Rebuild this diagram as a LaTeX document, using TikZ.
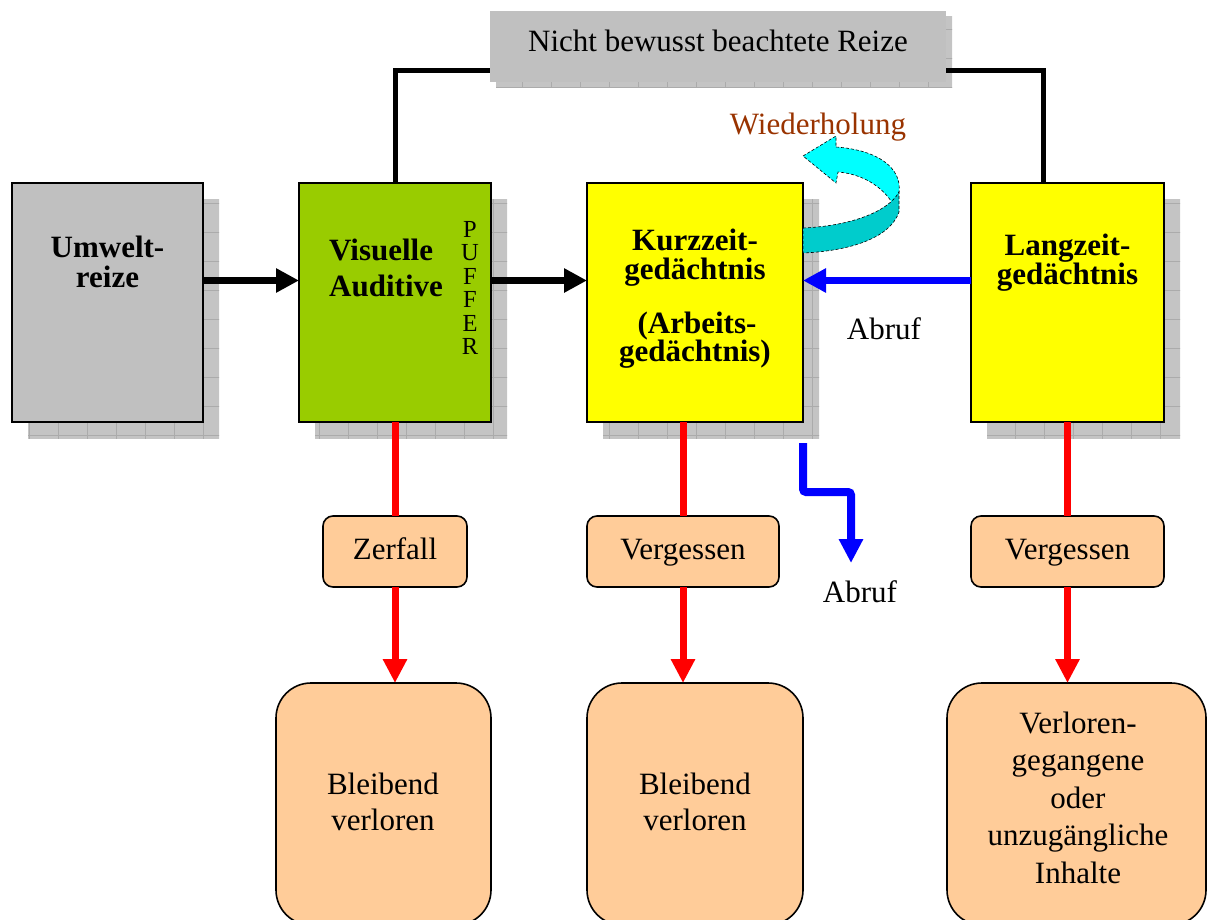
\documentclass[tikz,border=0pt]{standalone}
\usepackage{fontspec}
\setmainfont{Liberation Serif}
\usetikzlibrary{arrows.meta,calc,backgrounds}
\definecolor{boxgray}{HTML}{C0C0C0}
\definecolor{shgray}{HTML}{C4C4C4}
\definecolor{shline}{HTML}{ABABAB}
\definecolor{vgreen}{HTML}{99CC00}
\definecolor{kyellow}{HTML}{FFFF00}
\definecolor{peach}{HTML}{FFCC99}
\definecolor{wcyan}{HTML}{00FFFF}
\definecolor{wteal}{HTML}{00CCCC}
\definecolor{wbrown}{HTML}{993300}
\definecolor{pblue}{HTML}{0000FF}
\definecolor{pred}{HTML}{FF0000}
\tikzset{
  mainbox/.style={draw=black, line width=2.2pt, inner sep=0pt, outer sep=0pt},
  roundbox/.style={draw=black, line width=1.6pt, fill=peach, rounded corners=10pt, inner sep=0pt, outer sep=0pt},
  bigbox/.style={draw=black, line width=1.6pt, fill=peach, rounded corners=35pt, inner sep=0pt, outer sep=0pt},
  btxt/.style={font=\fontsize{31}{31}\selectfont\bfseries, inner sep=0pt, anchor=base},
  rtxt/.style={font=\fontsize{31}{31}\selectfont, inner sep=0pt, anchor=base},
  ptxt/.style={font=\fontsize{24.5}{24}\selectfont, inner sep=0pt, anchor=base},
  blkline/.style={line width=5pt, draw=black},
  blackarrow/.style={line width=7pt, draw=black, -{Triangle[length=23pt,width=23pt]}},
  bluearrow/.style={line width=7pt, draw=pblue, -{Triangle[length=23pt,width=23pt]}},
  redline/.style={line width=7pt, draw=pred},
  redarrow/.style={line width=7pt, draw=pred, -{Triangle[length=24pt,width=23pt]}},
  wiedline/.style={draw=black, line width=0.6pt, densely dashed},
}
\newcommand{\myshadow}[2]{%
  \begin{scope}
    \clip ([shift={(#2,#2)}]#1.north west) rectangle ([shift={(#2,#2)}]#1.south east);
    \fill[shgray] (0,0) rectangle (1209,920);
    \foreach \gx in {0,29,...,1218} {\draw[shline, line width=0.7pt] (\gx,0) -- (\gx,930);}
    \foreach \gy in {0,29,...,928} {\draw[shline, line width=0.7pt] (0,\gy) -- (1220,\gy);}
  \end{scope}}
\begin{document}
\begin{tikzpicture}[x=1pt,y=-1pt]
\useasboundingbox (0,0) rectangle (1209,920);
\clip (0,0) rectangle (1209,920);
% main boxes
\node[mainbox, fill=boxgray, minimum width=191pt, minimum height=239pt] (umw) at (107.5,302.5) {};
\node[mainbox, fill=vgreen, minimum width=192pt, minimum height=239pt] (vis) at (395,302.5) {};
\node[mainbox, fill=kyellow, minimum width=216pt, minimum height=239pt] (kzg) at (695,302.5) {};
\node[mainbox, fill=kyellow, minimum width=193pt, minimum height=239pt] (lzg) at (1067.5,302.5) {};
\node[fill=boxgray, inner sep=0pt, outer sep=0pt, minimum width=456pt, minimum height=71pt] (top) at (718,46.5) {};
% rounded boxes
\node[roundbox, minimum width=144pt, minimum height=71pt] (zer) at (395,551.5) {};
\node[roundbox, minimum width=192pt, minimum height=71pt] (vg1) at (683,551.5) {};
\node[roundbox, minimum width=193pt, minimum height=71pt] (vg2) at (1067.5,551.5) {};
\node[bigbox, minimum width=215pt, minimum height=242pt] (bl1) at (383.5,804) {};
\node[bigbox, minimum width=216pt, minimum height=242pt] (bl2) at (695,804) {};
\node[bigbox, minimum width=259pt, minimum height=242pt] (bl3) at (1076.5,804) {};
% shadows
\begin{scope}[on background layer]
  \myshadow{umw}{16}
  \myshadow{vis}{16}
  \myshadow{kzg}{16}
  \myshadow{lzg}{16}
  \myshadow{top}{6}
\end{scope}
% texts
\node[rtxt] (toptxt) at (718,52) {Nicht bewusst beachtete Reize};
\node[btxt] (umw1) at (107.5,257) {Umwelt-};
\node[btxt] (umw2) at (107.5,287) {reize};
\node[btxt, anchor=base west] (vis1) at (329,260) {Visuelle};
\node[btxt, anchor=base west] (vis2) at (329,296) {Auditive};
\foreach \l [count=\i] in {P,U,F,F,E,R} {\node[ptxt] (puf\i) at (470,213.5+23.5*\i) {\l};}
\node[btxt] (kzg1) at (695,250) {Kurzzeit-};
\node[btxt] (kzg2) at (695,279) {gedächtnis};
\node[btxt] (kzg3) at (697,333) {(Arbeits-};
\node[btxt] (kzg4) at (695,361) {gedächtnis)};
\node[btxt] (lzg1) at (1067.5,255) {Langzeit-};
\node[btxt] (lzg2) at (1067.5,284) {gedächtnis};
\node[rtxt] (zert) at (395,559) {Zerfall};
\node[rtxt] (vg1t) at (683,559) {Vergessen};
\node[rtxt] (vg2t) at (1067.5,559) {Vergessen};
\node[rtxt] (bl1a) at (383,794) {Bleibend};
\node[rtxt] (bl1b) at (383,830) {verloren};
\node[rtxt] (bl2a) at (695,794) {Bleibend};
\node[rtxt] (bl2b) at (695,830) {verloren};
\node[rtxt] (bl3a) at (1078,733) {Verloren-};
\node[rtxt] (bl3b) at (1078,770.5) {gegangene};
\node[rtxt] (bl3c) at (1078,808) {oder};
\node[rtxt] (bl3d) at (1078,845.5) {unzugängliche};
\node[rtxt] (bl3e) at (1078,883) {Inhalte};
\node[rtxt] (abr1) at (884,339) {Abruf};
\node[rtxt] (abr2) at (860,602) {Abruf};
\node[rtxt, text=wbrown] (wdh) at (818,135) {Wiederholung};
% connectors
\draw[blkline] (vis.north) |- ([yshift=11pt]top.south west);
\draw[blkline] ([yshift=11pt]top.south east) -| ([xshift=-24.5pt]lzg.north);
\draw[blackarrow] ([yshift=22pt]umw.east) -- ([yshift=22pt]vis.west);
\draw[blackarrow] ([yshift=22pt]vis.east) -- ([yshift=22pt]kzg.west);
\draw[bluearrow] ([yshift=22pt]lzg.west) -- ([yshift=22pt]kzg.east);
\draw[redline] (vis.south) -- (zer.north);
\draw[redarrow] (zer.south) -- (zer.south |- bl1.north);
\draw[redline] (vg1.north |- kzg.south) -- (vg1.north);
\draw[redarrow] (vg1.south) -- (vg1.south |- bl2.north);
\draw[redline] (vg2.north |- lzg.south) -- (vg2.north);
\draw[redarrow] (vg2.south) -- (vg2.south |- bl3.north);
\coordinate (ab0) at (803,443);
\coordinate (ab1) at (851,563);
\draw[bluearrow, line width=8pt, rounded corners=3pt, -{Triangle[length=24pt,width=23pt]}] (ab0) -- ++(0,49) -| (ab1);
% Wiederholung loop
\draw[wiedline, fill=wcyan] (836,147) .. controls (878,150) and (902,168) .. (899,192) -- (893,204) .. controls (882,186) and (862,174) .. (838,172) -- (836,183) -- (803,156) -- (836,136) -- cycle;
\draw[wiedline, fill=wteal] (803,228) .. controls (850,226) and (888,212) .. (899,192) -- (899,212) .. controls (890,238) and (850,251) .. (803,253) -- cycle;
\end{tikzpicture}
\end{document}
